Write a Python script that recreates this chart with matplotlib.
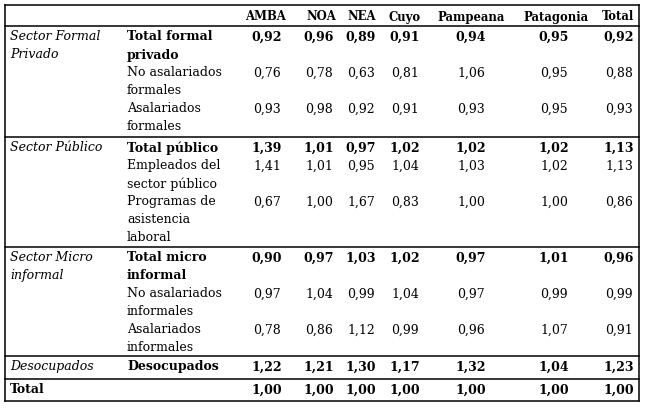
import matplotlib
matplotlib.use("Agg")
import matplotlib.pyplot as plt

# ---- data ----
regions = ["AMBA", "NOA", "NEA", "Cuyo", "Pampeana", "Patagonia", "Total"]
sectors = ["Sector Formal\nPrivado", "Sector Público", "Sector Micro\ninformal", "Desocupados", "Total"]

formal_labels = ["Total formal\nprivado", "No asalariados\nformales", "Asalariados\nformales"]
formal_values = [
    [0.92, 0.96, 0.89, 0.91, 0.94, 0.95, 0.92],
    [0.76, 0.78, 0.63, 0.81, 1.06, 0.95, 0.88],
    [0.93, 0.98, 0.92, 0.91, 0.93, 0.95, 0.93],
]
public_labels = ["Total público", "Empleados del\nsector público", "Programas de\nasistencia\nlaboral"]
public_values = [
    [1.39, 1.01, 0.97, 1.02, 1.02, 1.02, 1.13],
    [1.41, 1.01, 0.95, 1.04, 1.03, 1.02, 1.13],
    [0.67, 1.00, 1.67, 0.83, 1.00, 1.00, 0.86],
]
micro_labels = ["Total micro\ninformal", "No asalariados\ninformales", "Asalariados\ninformales"]
micro_values = [
    [0.90, 0.97, 1.03, 1.02, 0.97, 1.01, 0.96],
    [0.97, 1.04, 0.99, 1.04, 0.97, 0.99, 0.99],
    [0.78, 0.86, 1.12, 0.99, 0.96, 1.07, 0.91],
]
desoc_labels = ["Desocupados"]
desoc_values = [[1.22, 1.21, 1.30, 1.17, 1.32, 1.04, 1.23]]
total_labels = [""]
total_values = [[1.00, 1.00, 1.00, 1.00, 1.00, 1.00, 1.00]]

groups = [
    (sectors[0], formal_labels, formal_values),
    (sectors[1], public_labels, public_values),
    (sectors[2], micro_labels, micro_values),
    (sectors[3], desoc_labels, desoc_values),
    (sectors[4], total_labels, total_values),
]

# ---- layout ----
W, H = 646, 410
fig = plt.figure(figsize=(W / 100, H / 100), dpi=100)
ax = fig.add_axes([0, 0, 1, 1])
ax.set_xlim(0, W)
ax.set_ylim(H, 0)
ax.axis("off")

FONT = "DejaVu Serif"
FS = 9.0
LINE = 18.0
left, right = 5, 639
top = 6
seps = [27, 138, 248, 357, 380, 402]
col1_x = 10
col2_x = 127
hdr_x = [265, 321, 362, 405, 471, 556, 618]
val_x = [267, 319, 361, 405, 471, 554, 619]

lw = 1.1
ax.plot([left, right], [top, top], color="black", lw=lw)
for y in seps:
    ax.plot([left, right], [y, y], color="black", lw=lw)
ax.plot([left, left], [top, seps[-1]], color="black", lw=lw)
ax.plot([right, right], [top, seps[-1]], color="black", lw=lw)

hy = (top + seps[0]) / 2 + 0.5
for x, r in zip(hdr_x, regions):
    ax.text(x, hy, r, ha="center", va="center", fontsize=FS - 0.6,
            fontweight="bold", family=FONT)


def fmt(v):
    return f"{v:.2f}".replace(".", ",")


def lines_text(x, y0, s, **kw):
    for i, part in enumerate(s.split("\n")):
        ax.text(x, y0 + i * LINE, part, ha="left", va="center",
                fontsize=FS, family=FONT, **kw)


for gi, (sector, labels, values) in enumerate(groups):
    gtop = seps[gi]
    first_y = gtop + 10.0
    is_total = gi == len(groups) - 1
    lines_text(col1_x, first_y, sector,
               style="normal" if is_total else "italic",
               fontweight="bold" if is_total else "normal")
    k = 0
    for ri, (lab, vals) in enumerate(zip(labels, values)):
        y = first_y + k * LINE
        bold = ri == 0
        if lab:
            lines_text(col2_x, y, lab, fontweight="bold" if bold else "normal")
        for x, v in zip(val_x, vals):
            ax.text(x, y, fmt(v), ha="center", va="center", fontsize=FS,
                    family=FONT, fontweight="bold" if bold else "normal")
        k += lab.count("\n") + 1 if lab else 1

fig.savefig("out.png", dpi=100, facecolor="white")
